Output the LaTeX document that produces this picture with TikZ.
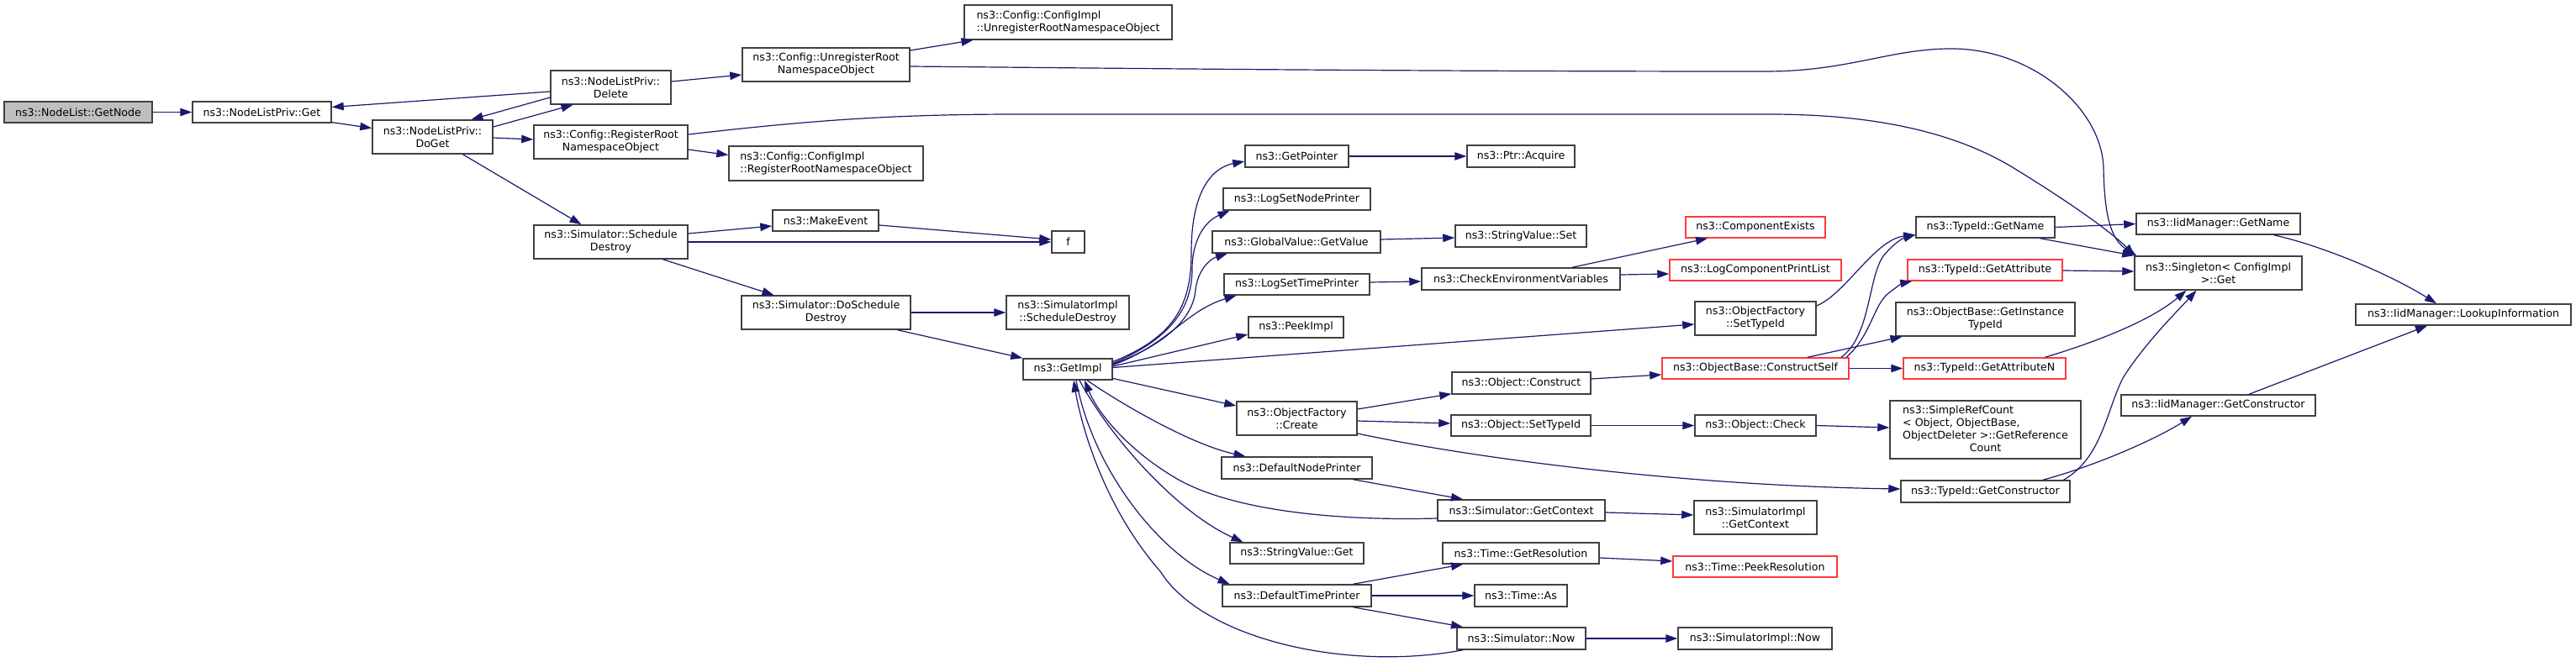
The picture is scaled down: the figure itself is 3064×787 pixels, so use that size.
\documentclass[tikz,border=0pt]{standalone}
\usepackage{fontspec}
\setmainfont{DejaVu Sans}
\usetikzlibrary{arrows.meta}
\definecolor{edgec}{HTML}{191970}
\definecolor{nodeb}{HTML}{404040}
\definecolor{redb}{HTML}{FF3a3a}
\definecolor{grayf}{HTML}{BFBFBF}
\tikzset{
  box/.style={draw=nodeb, line width=1.5pt, fill=white, rectangle, inner sep=0pt,
    font=\fontsize{12.6}{15}\selectfont, align=center},
  redbox/.style={box, draw=redb},
  e/.style={draw=edgec, line width=1.2pt, -{Triangle[length=14pt,width=9.5pt]}},
}
\begin{document}
\begin{tikzpicture}[x=1pt, y=-1pt]
\useasboundingbox[fill=white] (0,0) rectangle (3064,787);
% nodes
\node[box, fill=grayf, minimum width=176pt, minimum height=25pt] (getnode) at (93,133.5) {ns3::NodeList::GetNode};
\node[box, minimum width=165pt, minimum height=25pt] (nlget) at (311.5,133.5) {ns3::NodeListPriv::Get};
\node[box, minimum width=143pt, minimum height=40pt] (doget) at (514.5,163) {ns3::NodeListPriv::\\DoGet};
\node[box, minimum width=143pt, minimum height=40pt] (delete) at (726.5,104) {ns3::NodeListPriv::\\Delete};
\node[box, minimum width=183pt, minimum height=40pt] (regroot) at (726.5,169) {ns3::Config::RegisterRoot\\NamespaceObject};
\node[box, minimum width=183pt, minimum height=40pt] (schdestroy) at (726.5,288) {ns3::Simulator::Schedule\\Destroy};
\node[box, minimum width=199pt, minimum height=40pt] (unregroot) at (982.5,77) {ns3::Config::UnregisterRoot\\NamespaceObject};
\node[box, align=left, minimum width=247pt, minimum height=41pt] (cfgunreg) at (1270.5,26.5) {ns3::Config::ConfigImpl\\::UnregisterRootNamespaceObject};
\node[box, align=left, minimum width=231pt, minimum height=41pt] (cfgreg) at (982.5,194.5) {ns3::Config::ConfigImpl\\::RegisterRootNamespaceObject};
\node[box, minimum width=126pt, minimum height=25pt] (makeevent) at (982,262.5) {ns3::MakeEvent};
\node[box, minimum width=39pt, minimum height=26pt] (f) at (1270.5,288) {f};
\node[box, minimum width=201pt, minimum height=40pt] (doschd) at (982.5,372) {ns3::Simulator::DoSchedule\\Destroy};
\node[box, minimum width=146pt, minimum height=40pt] (simimplschd) at (1270,372) {ns3::SimulatorImpl\\::ScheduleDestroy};
\node[box, minimum width=123pt, minimum height=26pt] (getpointer) at (1542.5,186) {ns3::GetPointer};
\node[box, minimum width=175pt, minimum height=26pt] (logsetnode) at (1542.5,237) {ns3::LogSetNodePrinter};
\node[box, minimum width=200pt, minimum height=26pt] (gvgetvalue) at (1542,288) {ns3::GlobalValue::GetValue};
\node[box, minimum width=173pt, minimum height=25pt] (logsettime) at (1542.5,338.5) {ns3::LogSetTimePrinter};
\node[box, minimum width=113pt, minimum height=25pt] (peekimpl) at (1541.5,389.5) {ns3::PeekImpl};
\node[box, minimum width=106pt, minimum height=25pt] (getimpl) at (1270,439.5) {ns3::GetImpl};
\node[box, minimum width=143pt, minimum height=40pt] (ofcreate) at (1542.5,498) {ns3::ObjectFactory\\::Create};
\node[box, minimum width=179pt, minimum height=26pt] (defnodeprinter) at (1542.5,557) {ns3::DefaultNodePrinter};
\node[box, minimum width=159pt, minimum height=25pt] (svget) at (1542.5,658.5) {ns3::StringValue::Get};
\node[box, minimum width=177pt, minimum height=26pt] (deftimeprinter) at (1542.5,709) {ns3::DefaultTimePrinter};
\node[box, minimum width=128pt, minimum height=26pt] (ptracquire) at (1809,186) {ns3::Ptr::Acquire};
\node[box, minimum width=156pt, minimum height=26pt] (svset) at (1809,281) {ns3::StringValue::Set};
\node[box, minimum width=236pt, minimum height=26pt] (checkenv) at (1809,332) {ns3::CheckEnvironmentVariables};
\node[redbox, minimum width=166pt, minimum height=25pt] (compexists) at (2088,270.5) {ns3::ComponentExists};
\node[redbox, minimum width=204pt, minimum height=25pt] (logcomplist) at (2088,321.5) {ns3::LogComponentPrintList};
\node[box, minimum width=144pt, minimum height=40pt] (ofsettypeid) at (2088,379) {ns3::ObjectFactory\\::SetTypeId};
\node[box, minimum width=165pt, minimum height=26pt] (objconstruct) at (1809.5,456) {ns3::Object::Construct};
\node[box, minimum width=166pt, minimum height=25pt] (objsettypeid) at (1809,506.5) {ns3::Object::SetTypeId};
\node[box, minimum width=199pt, minimum height=25pt] (simgetctx) at (1809.5,607.5) {ns3::Simulator::GetContext};
\node[box, minimum width=186pt, minimum height=25pt] (timegetres) at (1809,658.5) {ns3::Time::GetResolution};
\node[box, minimum width=110pt, minimum height=26pt] (timeas) at (1809,709) {ns3::Time::As};
\node[box, minimum width=153pt, minimum height=26pt] (simnow) at (1809.5,760) {ns3::Simulator::Now};
\node[redbox, minimum width=222pt, minimum height=25pt] (constructself) at (2088,438.5) {ns3::ObjectBase::ConstructSelf};
\node[box, minimum width=144pt, minimum height=25pt] (objcheck) at (2088,506.5) {ns3::Object::Check};
\node[box, minimum width=146pt, minimum height=40pt] (simimplctx) at (2088,616) {ns3::SimulatorImpl\\::GetContext};
\node[redbox, minimum width=195pt, minimum height=25pt] (timepeekres) at (2087.5,674.5) {ns3::Time::PeekResolution};
\node[box, minimum width=183pt, minimum height=26pt] (simimplnow) at (2087.5,760) {ns3::SimulatorImpl::Now};
\node[box, minimum width=165pt, minimum height=25pt] (typegetname) at (2361.5,270.5) {ns3::TypeId::GetName};
\node[redbox, minimum width=184pt, minimum height=25pt] (typegetattr) at (2361,321.5) {ns3::TypeId::GetAttribute};
\node[box, minimum width=213pt, minimum height=40pt] (obgetinst) at (2361.5,380) {ns3::ObjectBase::GetInstance\\TypeId};
\node[redbox, minimum width=193pt, minimum height=25pt] (typegetattrN) at (2360.5,438.5) {ns3::TypeId::GetAttributeN};
\node[box, minimum width=227pt, minimum height=69pt] (simplerefcount) at (2361.5,511.5)
  {\begin{tabular}{@{}l@{}}ns3::SimpleRefCount\\< Object, ObjectBase,\\ ObjectDeleter >::GetReference\\\multicolumn{1}{@{}c@{}}{Count}\end{tabular}};
\node[box, minimum width=201pt, minimum height=26pt] (typegetctor) at (2361.5,585) {ns3::TypeId::GetConstructor};
\node[box, minimum width=195pt, minimum height=25pt] (iidgetname) at (2638.5,266.5) {ns3::IidManager::GetName};
\node[box, minimum width=199pt, minimum height=40pt] (singleton) at (2638.5,325) {ns3::Singleton< ConfigImpl\\>::Get};
\node[box, minimum width=231pt, minimum height=25pt] (iidgetctor) at (2638.5,482.5) {ns3::IidManager::GetConstructor};
\node[box, minimum width=256pt, minimum height=25pt] (lookup) at (2930,374.5) {ns3::IidManager::LookupInformation};
% edges
\draw[e] (getnode.east) -- (nlget.west);
\draw[e] (nlget) -- (doget);
\draw[e] ([yshift=12pt]doget.east) -- ([xshift=-45pt]delete.south);
\draw[e] ([yshift=-12pt]delete.west) -- ([xshift=46pt]doget.north);
\draw[e] ([yshift=-5pt]delete.west) -- ([yshift=6pt]nlget.east);
\draw[e] ([yshift=7pt]delete.east) -- ([yshift=-12pt]unregroot.west);
\draw[e] ([yshift=-1pt]doget.east) -- ([yshift=3pt]regroot.west);
\draw[e] ([xshift=36pt]doget.south) -- ([xshift=-35pt]schdestroy.north);
\draw[e] ([yshift=17pt]unregroot.east) -- ([xshift=-113pt]cfgunreg.south);
\draw[e] ([yshift=-2pt]unregroot.east) .. controls (1400,82) and (1700,85) .. (2100,85) .. controls (2200,85) and (2250,57) .. (2325,58) .. controls (2420,60) and (2500,130) .. (2502,200) .. controls (2503,255) and (2510,285) .. ([xshift=3pt]singleton.north west);
\draw[e] ([yshift=-9pt]regroot.east) -- ([yshift=10pt]cfgreg.west);
\draw[e] ([yshift=9pt]regroot.east) .. controls (950,145) and (1050,136) .. (1210,136) -- (2105,136) .. controls (2250,136) and (2340,165) .. (2400,203) .. controls (2460,240) and (2510,275) .. ([xshift=1pt]singleton.north west);
\draw[e] ([yshift=10pt]schdestroy.east) -- ([yshift=-6.5pt]makeevent.west);
\draw[e] (schdestroy.east) -- (f.west);
\draw[e] ([yshift=-5.5pt]makeevent.east) -- ([yshift=3pt]f.west);
\draw[e] ([xshift=62pt]schdestroy.south) -- ([xshift=-62pt]doschd.north);
\draw[e] (doschd.east) -- (simimplschd.west);
\draw[e] ([xshift=85pt]doschd.south) -- (getimpl.north west);
\draw[e] ([yshift=9pt]getimpl.east) .. controls (1400,400) and (1417,360) .. (1417,300) .. controls (1417,230) and (1440,200) .. ([yshift=-6pt]getpointer.west);
\draw[e] ([yshift=7pt]getimpl.east) .. controls (1400,400) and (1418,360) .. (1418,320) .. controls (1418,290) and (1430,265) .. ([xshift=-80pt]logsetnode.south);
\draw[e] ([yshift=6pt]getimpl.east) .. controls (1400,405) and (1420,370) .. (1422,345) .. controls (1425,320) and (1440,308) .. ([xshift=-82pt]gvgetvalue.south);
\draw[e] ([yshift=5pt]getimpl.east) .. controls (1390,410) and (1410,370) .. ([xshift=-72pt]logsettime.south);
\draw[e] ([yshift=3.5pt]getimpl.east) -- ([yshift=-8.5pt]peekimpl.west);
\draw[e] ([yshift=2pt]getimpl.east) -- ([yshift=-7pt]ofsettypeid.west);
\draw[e] ([yshift=-11pt]getimpl.east) -- ([yshift=15pt]ofcreate.west);
\draw[e] ([xshift=23pt]getimpl.south) .. controls (1340,485) and (1420,530) .. ([xshift=-61pt]defnodeprinter.north);
\draw[e] ([yshift=-9.5pt]simgetctx.west) .. controls (1600,620) and (1470,610) .. (1400,570) .. controls (1340,535) and (1305,490) .. ([xshift=20pt]getimpl.south);
\draw[e] ([xshift=14pt]getimpl.south) .. controls (1320,520) and (1400,610) .. ([xshift=-64pt]svget.north);
\draw[e] ([xshift=10pt]getimpl.south) .. controls (1300,560) and (1380,660) .. ([xshift=-80pt]deftimeprinter.north);
\draw[e] ([xshift=-69.5pt]simnow.south) .. controls (1600,800) and (1430,760) .. (1380,680) .. controls (1310,600) and (1285,500) .. ([xshift=7pt]getimpl.south);
\draw[e] (getpointer.east) -- (ptracquire.west);
\draw[e] ([yshift=3pt]gvgetvalue.east) -- ([yshift=-2pt]svset.west);
\draw[e] ([yshift=2.5pt]logsettime.east) -- ([yshift=-3pt]checkenv.west);
\draw[e] ([xshift=61pt]checkenv.north) -- ([xshift=-57pt]compexists.south);
\draw[e] ([yshift=5pt]checkenv.east) -- ([yshift=-4.5pt]logcomplist.west);
\draw[e] ([yshift=15pt]ofsettypeid.east) .. controls (2195,350) and (2230,285) .. ([yshift=-9pt]typegetname.west);
\draw[e] ([yshift=11pt]ofcreate.east) -- ([yshift=1pt]objconstruct.south west);
\draw[e] ([yshift=-3pt]ofcreate.east) -- ([yshift=2.5pt]objsettypeid.west);
\draw[e] ([yshift=-18pt]ofcreate.east) .. controls (1750,545) and (2000,578) .. ([yshift=3pt]typegetctor.west);
\draw[e] ([xshift=67pt]defnodeprinter.south) -- ([xshift=-69.5pt]simgetctx.north);
\draw[e] ([yshift=-2.5pt]simgetctx.east) -- ([yshift=3pt]simimplctx.west);
\draw[e] ([xshift=67pt]deftimeprinter.north) -- ([xshift=-69pt]timegetres.south);
\draw[e] (deftimeprinter.east) -- (timeas.west);
\draw[e] ([xshift=67pt]deftimeprinter.south) -- ([xshift=-69.5pt]simnow.north);
\draw[e] ([yshift=-5.5pt]timegetres.east) -- ([yshift=6.5pt]timepeekres.west);
\draw[e] (simnow.east) -- (simimplnow.west);
\draw[e] ([yshift=5pt]objconstruct.east) -- ([yshift=-7.5pt]constructself.west);
\draw[e] (objsettypeid.east) -- (objcheck.west);
\draw[e] (objcheck.east) -- ([yshift=2.5pt]simplerefcount.west);
\draw[e] ([xshift=102pt]constructself.north) .. controls (2225,400) and (2222,330) .. (2240,305) .. controls (2250,292) and (2262,284) .. ([yshift=-9pt]typegetname.west);
\draw[e] ([xshift=108pt]constructself.north) .. controls (2225,400) and (2228,365) .. (2245,350) .. controls (2255,342) and (2263,337) .. ([xshift=6pt]typegetattr.south west);
\draw[e] ([xshift=62pt]constructself.north) -- ([xshift=-99pt]obgetinst.south);
\draw[e] (constructself.east) -- (typegetattrN.west);
\draw[e] (typegetname.east) -- (iidgetname.west);
\draw[e] ([xshift=65pt]typegetname.south) -- (singleton.north west);
\draw[e] ([yshift=-0.5pt]typegetattr.east) -- ([yshift=2pt]singleton.west);
\draw[e] ([xshift=72pt]typegetattrN.north) .. controls (2500,405) and (2560,380) .. ([xshift=-38pt]singleton.south);
\draw[e] ([xshift=93pt]typegetctor.north) .. controls (2500,545) and (2505,490) .. (2525,450) .. controls (2550,410) and (2590,370) .. ([xshift=-26pt]singleton.south);
\draw[e] ([xshift=68.5pt]typegetctor.north) .. controls (2490,555) and (2560,525) .. ([xshift=-31.5pt]iidgetctor.south);
\draw[e] ([xshift=66pt]iidgetname.south) .. controls (2760,292) and (2840,325) .. ([xshift=-32pt]lookup.north);
\draw[e] ([xshift=36.5pt]iidgetctor.north) -- ([xshift=-43pt]lookup.south);
\end{tikzpicture}
\end{document}
